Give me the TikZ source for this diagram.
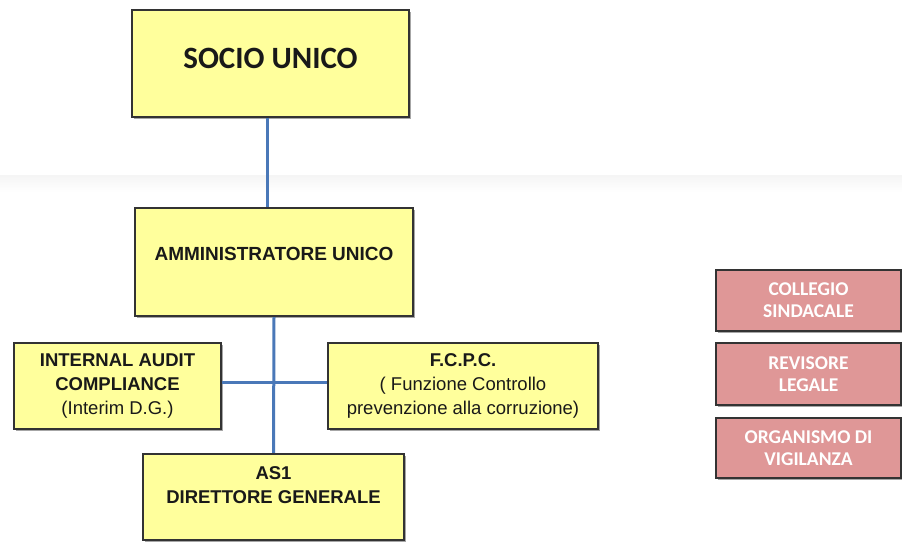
\documentclass[tikz,border=0pt]{standalone}
\usepackage{fontspec}
\setmainfont{Liberation Sans}
\newfontfamily\carlito{Carlito}
\usepackage{tikz}
\usetikzlibrary{shadows}
\definecolor{boxyellow}{HTML}{FFFF9C}
\definecolor{boxpink}{HTML}{DF9797}
\definecolor{edgegray}{HTML}{333333}
\definecolor{linkblue}{HTML}{4A78B8}

\begin{document}
\begin{tikzpicture}[x=1pt, y=-1pt,
	yellowbox/.style={draw=edgegray, line width=2.2pt, fill=boxyellow, align=center, inner sep=0pt,
		text=black!90, font=\bfseries\fontsize{18.5}{24}\selectfont,
		drop shadow={shadow xshift=1.5pt, shadow yshift=-1.5pt, opacity=0.35, fill=black}},
	pinkbox/.style={draw=edgegray, line width=2.2pt, fill=boxpink, align=center, inner sep=0pt,
		text=white, font=\carlito\bfseries\fontsize{19.5}{22}\selectfont,
		minimum width=185pt,
		drop shadow={shadow xshift=1.5pt, shadow yshift=-1.5pt, opacity=0.35, fill=black}},
	link/.style={draw=linkblue, line width=3pt}]
	\fill[white] (0,0) rectangle (902,544);
	\useasboundingbox (0,0) rectangle (902,544);
	% faint band behind the page
	\shade[top color=black!4, bottom color=white] (0,175) rectangle (902,192);
	%
	\node[yellowbox, font=\carlito\bfseries\fontsize{31}{34}\selectfont, text height=20pt, text depth=11pt,
		minimum width=277pt, minimum height=107pt] (socio) at (270.5,63.5) {SOCIO UNICO};
	\node[yellowbox, font=\bfseries\fontsize{19}{24}\selectfont, text height=14pt, text depth=18pt,
		minimum width=278pt, minimum height=108pt] (ammin) at (274,262) {AMMINISTRATORE UNICO};
	\node[yellowbox, minimum width=207pt, minimum height=86pt] (audit) at (117.5,386)
		{INTERNAL AUDIT\\COMPLIANCE\\{\mdseries (Interim D.G.)}};
	\node[yellowbox, minimum width=270pt, minimum height=86pt] (fcpc) at (463,386)
		{F.C.P.C.\\{\mdseries ( Funzione Controllo}\\{\mdseries prevenzione alla corruzione)}};
	\node[yellowbox, minimum width=261pt, minimum height=86pt] (dg) at (273.5,497)
		{AS1\\DIRETTORE GENERALE\\\mbox{}};
	%
	\node[pinkbox, minimum height=61pt] (collegio) at (808.5,300.5) {COLLEGIO\\SINDACALE};
	\node[pinkbox, minimum height=62pt] (revisore) at (808.5,374) {REVISORE\\LEGALE};
	\node[pinkbox, minimum height=60pt] (odv) at (808.5,448) {ORGANISMO DI\\VIGILANZA};
	%
	\draw[link] ([xshift=-3.5pt]socio.south) -- ([xshift=-3.5pt]socio.south |- ammin.north);
	\draw[link] (ammin.south) -- (dg.north);
	\draw[link] ([yshift=4pt]audit.east) -- ([yshift=4pt]audit.east -| fcpc.west);
\end{tikzpicture}
\end{document}
